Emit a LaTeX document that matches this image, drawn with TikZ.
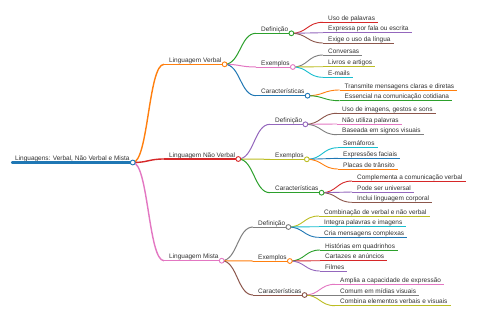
\documentclass[tikz,border=0pt]{standalone}
\usepackage{fontspec}
\setmainfont{Liberation Sans}
\usetikzlibrary{calc}
\definecolor{cblue}{HTML}{1F77B4}
\definecolor{corange}{HTML}{FF7F0E}
\definecolor{cgreen}{HTML}{2CA02C}
\definecolor{cred}{HTML}{D62728}
\definecolor{cpurple}{HTML}{9467BD}
\definecolor{cbrown}{HTML}{8C564B}
\definecolor{cpink}{HTML}{E377C2}
\definecolor{cgray}{HTML}{7F7F7F}
\definecolor{colive}{HTML}{BCBD22}
\definecolor{ccyan}{HTML}{17BECF}
\definecolor{textgray}{HTML}{333333}
% #1 name, #2 parent, #3 line start x, #4 y, #5 colour, #6 width style, #7 text
\newcommand\mmnode[7]{%
  \coordinate (#1-s) at (#3,#4);
  \node[txt] (#1) at (#3+5,#4-2) {#7};
  \coordinate (#1-e) at ($(#1.east |- #1-s)+(3,0)$);
  \draw[#5,#6] (#1-s) -- (#1-e);
  \draw[#5,#6] let \p1=(#2-e), \p2=(#1-s) in
    (\p1) .. controls ({0.5*\x1+0.5*\x2},\y1) and ({0.5*\x1+0.5*\x2},\y2) .. (\p2);
}
\newcommand\mmdot[2]{\draw[#2,line width=0.9bp,fill=white] (#1-e) circle[radius=2.4bp];}
\begin{document}
\begin{tikzpicture}[x=1bp,y=-1bp,
  txt/.style={anchor=base west,inner sep=0pt,font=\fontsize{6.5}{7}\selectfont,text=textgray},
  w0/.style={line width=2.2bp,line cap=round},
  w1/.style={line width=1.4bp},
  w2/.style={line width=1bp},
  w3/.style={line width=0.9bp}]
\useasboundingbox (0,0) rectangle (480,320);
\fill[white] (0,0) rectangle (480,320);
% root
\coordinate (r-s) at (12,162.5);
\node[txt] (r) at (15,160.5) {Linguagens: Verbal, Não Verbal e Mista};
\coordinate (r-e) at ($(r.east |- r-s)+(3,0)$);
\draw[cblue,w0] (r-s) -- (r-e);
% level 1
\mmnode{v}{r}{164}{64.3}{corange}{w1}{Linguagem Verbal}
\mmnode{n}{r}{164}{159}{cred}{w1}{Linguagem Não Verbal}
\mmnode{m}{r}{164}{260.7}{cpink}{w1}{Linguagem Mista}
% level 2
\mmnode{vd}{v}{256}{33.3}{cgreen}{w2}{Definição}
\mmnode{ve}{v}{256}{67}{cpink}{w2}{Exemplos}
\mmnode{vc}{v}{256}{95.7}{cblue}{w2}{Características}
\mmnode{nd}{n}{270}{124.3}{cpurple}{w2}{Definição}
\mmnode{ne}{n}{270}{159.3}{colive}{w2}{Exemplos}
\mmnode{nc}{n}{270}{192.7}{cgreen}{w2}{Características}
\mmnode{md}{m}{253}{227}{cgray}{w2}{Definição}
\mmnode{me}{m}{253}{261}{corange}{w2}{Exemplos}
\mmnode{mc}{m}{253}{295}{cbrown}{w2}{Características}
% level 3
\mmnode{vd1}{vd}{323}{22.3}{cred}{w3}{Uso de palavras}
\mmnode{vd2}{vd}{323}{32.7}{cpurple}{w3}{Expressa por fala ou escrita}
\mmnode{vd3}{vd}{323}{43}{cbrown}{w3}{Exige o uso da língua}
\mmnode{ve1}{ve}{323}{55}{cgray}{w3}{Conversas}
\mmnode{ve2}{ve}{323}{66.7}{colive}{w3}{Livros e artigos}
\mmnode{ve3}{ve}{323}{77.3}{ccyan}{w3}{E-mails}
\mmnode{vc1}{vc}{339.5}{90}{corange}{w3}{Transmite mensagens claras e diretas}
\mmnode{vc2}{vc}{339.5}{100.7}{cgreen}{w3}{Essencial na comunicação cotidiana}
\mmnode{nd1}{nd}{337}{113.3}{cbrown}{w3}{Uso de imagens, gestos e sons}
\mmnode{nd2}{nd}{337}{124}{cpink}{w3}{Não utiliza palavras}
\mmnode{nd3}{nd}{337}{134.7}{cgray}{w3}{Baseada em signos visuais}
\mmnode{ne1}{ne}{338}{147.7}{ccyan}{w3}{Semáforos}
\mmnode{ne2}{ne}{338}{158.3}{cblue}{w3}{Expressões faciais}
\mmnode{ne3}{ne}{338}{169}{corange}{w3}{Placas de trânsito}
\mmnode{nc1}{nc}{352}{181}{cred}{w3}{Complementa a comunicação verbal}
\mmnode{nc2}{nc}{352}{192}{cpurple}{w3}{Pode ser universal}
\mmnode{nc3}{nc}{352}{202.3}{cbrown}{w3}{Inclui linguagem corporal}
\mmnode{md1}{md}{319}{216}{colive}{w3}{Combinação de verbal e não verbal}
\mmnode{md2}{md}{319}{226.7}{ccyan}{w3}{Integra palavras e imagens}
\mmnode{md3}{md}{319}{237.3}{cblue}{w3}{Cria mensagens complexas}
\mmnode{me1}{me}{320}{250}{cgreen}{w3}{Histórias em quadrinhos}
\mmnode{me2}{me}{320}{260.7}{cred}{w3}{Cartazes e anúncios}
\mmnode{me3}{me}{320}{271}{cpurple}{w3}{Filmes}
\mmnode{mc1}{mc}{335}{284.3}{cpink}{w3}{Amplia a capacidade de expressão}
\mmnode{mc2}{mc}{335}{295}{cgray}{w3}{Comum em mídias visuais}
\mmnode{mc3}{mc}{335}{305.7}{colive}{w3}{Combina elementos verbais e visuais}
% circles
\mmdot{r}{cblue}
\mmdot{v}{corange}\mmdot{n}{cred}\mmdot{m}{cpink}
\mmdot{vd}{cgreen}\mmdot{ve}{cpink}\mmdot{vc}{cblue}
\mmdot{nd}{cpurple}\mmdot{ne}{colive}\mmdot{nc}{cgreen}
\mmdot{md}{cgray}\mmdot{me}{corange}\mmdot{mc}{cbrown}
\end{tikzpicture}
\end{document}
